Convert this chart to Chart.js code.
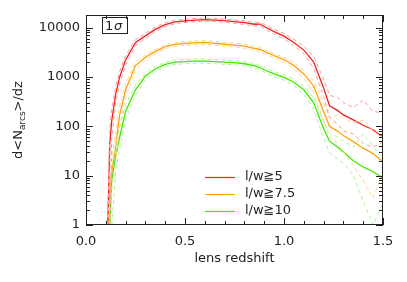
<!DOCTYPE html>
<html>
<head>
<meta charset="utf-8">
<script src="https://cdn.jsdelivr.net/npm/chart.js@4.4.0/dist/chart.umd.min.js"></script>
<style>
html, body { margin: 0; padding: 0; background: #fff; }
#wrap { width: 407px; height: 282px; }
</style>
</head>
<body>
<div id="wrap"><canvas id="myChart" width="407" height="282"></canvas></div>
<script>
// lens redshift grid
const zvals = [0.11, 0.12, 0.13, 0.15, 0.17, 0.2, 0.25, 0.3, 0.35, 0.4, 0.45, 0.5, 0.55, 0.6, 0.65, 0.7, 0.75, 0.8, 0.85, 0.88, 0.9, 0.95, 1.0, 1.05, 1.1, 1.15, 1.2, 1.23, 1.27, 1.3, 1.35, 1.4, 1.45, 1.5];

// l/w >= 5
const red = [1, 45, 130, 450, 1000, 2200, 5000, 6800, 9200, 11500, 13000, 13700, 14200, 14500, 14200, 13800, 13200, 12600, 11700, 11800, 10500, 8300, 6700, 5000, 3500, 2000, 600, 260, 210, 170, 135, 105, 85, 60];
const redHi = [1, 90, 220, 650, 1300, 2700, 5700, 7600, 10200, 12600, 14100, 14800, 15300, 15600, 15300, 14900, 14300, 13700, 12700, 12800, 11600, 9300, 7600, 5800, 4200, 2600, 900, 420, 390, 300, 240, 340, 200, 185];
const redLo = [null, 1, 60, 300, 750, 1750, 4300, 6000, 8300, 10500, 12000, 12700, 13200, 13500, 13200, 12800, 12200, 11600, 10800, 10800, 9500, 7400, 5900, 4300, 2900, 1500, 400, 150, 110, 80, 70, 45, 38, 48];

// l/w >= 7.5
const orange = [1, 5, 12, 40, 170, 550, 1700, 2500, 3300, 4100, 4550, 4800, 4900, 5000, 4800, 4600, 4400, 4200, 3800, 3600, 3300, 2700, 2250, 1700, 1150, 650, 200, 100, 80, 65, 49, 36, 28, 19];
const orangeHi = [1, 12, 25, 70, 260, 720, 2000, 2800, 3650, 4500, 4950, 5250, 5350, 5450, 5250, 5050, 4850, 4650, 4200, 4000, 3650, 3000, 2500, 1950, 1350, 850, 300, 150, 170, 150, 117, 135, 80, 59];
const orangeLo = [null, 1, 5, 20, 100, 400, 1400, 2200, 3000, 3700, 4150, 4400, 4480, 4580, 4380, 4180, 4000, 3800, 3420, 3250, 2950, 2400, 2000, 1470, 950, 480, 130, 60, 46, 30, 16, 8, 3.5, 12];

// l/w >= 10
const green = [null, 1, 8, 25, 60, 200, 550, 1050, 1450, 1800, 2000, 2050, 2100, 2100, 2050, 2000, 1950, 1850, 1700, 1550, 1400, 1150, 980, 780, 550, 300, 90, 50, 38, 30, 20, 15, 12, 9];
const greenHi = [null, 2, 15, 45, 90, 280, 680, 1200, 1620, 2000, 2200, 2260, 2300, 2300, 2250, 2200, 2150, 2040, 1880, 1720, 1560, 1300, 1100, 900, 650, 380, 130, 75, 60, 50, 38, 70, 40, 20];
const greenLo = [null, null, 1, 12, 35, 140, 430, 900, 1280, 1620, 1800, 1850, 1900, 1900, 1850, 1800, 1760, 1670, 1530, 1390, 1240, 1000, 860, 660, 440, 220, 55, 29, 22, 18, 10, 3, 1, 2.8];

const xTicks = [0, 0.5, 1.0, 1.5];
const yTicks = [1, 10, 100, 1000, 10000];
const legendLabels = ['l/w\u22675', 'l/w\u22677.5', 'l/w\u226710'];

function pts(arr) {
	var out = [];
	for (var i = 0; i < zvals.length; i++) {
		if (arr[i] !== null) out.push({ x: zvals[i], y: arr[i] });
	}
	return out;
}

const cRed = '#f22020', cRedL = '#ff9a9a';
const cOr = '#ffa010', cOrL = '#ffd690';
const cGr = '#3ee800', cGrL = '#aaf890';

function solid(arr, col) {
	return { data: pts(arr), borderColor: col, borderWidth: 1.3, pointRadius: 0, tension: 0, fill: false };
}
function dashed(arr, col) {
	return { data: pts(arr), borderColor: col, borderWidth: 1, borderDash: [4, 3], pointRadius: 0, tension: 0, fill: false };
}

// ticks, box, legend, y title
const decor = {
	id: 'decor',
	afterDraw: function (chart) {
		var ctx = chart.ctx, a = chart.chartArea;
		var xs = chart.scales.x, ys = chart.scales.y;
		ctx.save();
		ctx.strokeStyle = '#222';
		ctx.lineWidth = 1;
		ctx.strokeRect(a.left + 0.5, a.top + 0.5, a.right - a.left - 1, a.bottom - a.top - 1);
		ctx.beginPath();
		// x ticks every 0.1, major every 0.5
		for (var k = 0; k <= 15; k++) {
			var px = Math.round(xs.getPixelForValue(k / 10)) + 0.5;
			var len = (k % 5 === 0) ? 7 : 4;
			ctx.moveTo(px, a.bottom); ctx.lineTo(px, a.bottom - len);
			ctx.moveTo(px, a.top); ctx.lineTo(px, a.top + len);
		}
		// y ticks log
		for (var d = 1; d <= 10000; d *= 10) {
			for (var m = 1; m <= 9; m++) {
				var v = d * m;
				if (v > ys.max) break;
				var py = Math.round(ys.getPixelForValue(v)) + 0.5;
				var l2 = (m === 1) ? 7 : 4;
				ctx.moveTo(a.left, py); ctx.lineTo(a.left + l2, py);
				ctx.moveTo(a.right, py); ctx.lineTo(a.right - l2, py);
			}
		}
		ctx.stroke();

		// 1 sigma box
		ctx.strokeRect(102.5, 17.5, 25, 16);
		ctx.fillStyle = '#222';
		ctx.textBaseline = 'alphabetic';
		ctx.font = '13px "DejaVu Sans"';
		ctx.fillText('1', 105, 30);
		ctx.font = 'italic 13px "DejaVu Sans"';
		ctx.fillText('\u03c3', 114, 30);

		// legend
		var cols = [cRed, cOr, cGr];
		ctx.font = '13px "DejaVu Sans"';
		ctx.textBaseline = 'middle';
		for (var i = 0; i < legendLabels.length; i++) {
			var ly = 177 + i * 17;
			ctx.strokeStyle = cols[i];
			ctx.lineWidth = 1.2;
			ctx.beginPath(); ctx.moveTo(205, ly + 0.5); ctx.lineTo(235, ly + 0.5); ctx.stroke();
			ctx.fillStyle = '#222';
			ctx.fillText(legendLabels[i], 245, ly);
		}

		// y title with subscript
		ctx.translate(22, (a.top + a.bottom) / 2);
		ctx.rotate(-Math.PI / 2);
		ctx.textBaseline = 'alphabetic';
		var p1 = 'd<N', sub = 'arcs', p2 = '>/dz';
		ctx.font = '13px "DejaVu Sans"';
		var w1 = ctx.measureText(p1).width, w3 = ctx.measureText(p2).width;
		ctx.font = '9px "DejaVu Sans"';
		var w2 = ctx.measureText(sub).width;
		var x0 = -(w1 + w2 + w3) / 2;
		ctx.font = '13px "DejaVu Sans"';
		ctx.fillText(p1, x0, 0);
		ctx.font = '9px "DejaVu Sans"';
		ctx.fillText(sub, x0 + w1, 3);
		ctx.font = '13px "DejaVu Sans"';
		ctx.fillText(p2, x0 + w1 + w2, 0);
		ctx.restore();
	}
};

var ctx = document.getElementById('myChart').getContext('2d');
var chart = new Chart(ctx, {
	type: 'line',
	data: {
		datasets: [
			dashed(redHi, cRedL), dashed(redLo, cRedL),
			dashed(orangeHi, cOrL), dashed(orangeLo, cOrL),
			dashed(greenHi, cGrL), dashed(greenLo, cGrL),
			solid(red, cRed), solid(orange, cOr), solid(green, cGr)
		]
	},
	options: {
		responsive: false,
		animation: false,
		layout: { padding: { top: 15, right: 24, left: 0, bottom: 0 } },
		plugins: { legend: { display: false }, tooltip: { enabled: false } },
		scales: {
			x: {
				type: 'linear', min: 0, max: 1.5,
				afterBuildTicks: function (s) { s.ticks = xTicks.map(function (v) { return { value: v }; }); },
				afterFit: function (s) { s.height = 57; },
				grid: { display: false, drawTicks: false },
				border: { display: false },
				ticks: {
					color: '#222', padding: 9, maxRotation: 0,
					font: { family: 'DejaVu Sans', size: 13 },
					callback: function (v) { return v.toFixed(1); }
				},
				title: { display: true, text: 'lens redshift', color: '#222', padding: { top: 2, bottom: 16 }, font: { family: 'DejaVu Sans', size: 13 } }
			},
			y: {
				type: 'logarithmic', min: 1, max: 18000,
				afterBuildTicks: function (s) { s.ticks = yTicks.map(function (v) { return { value: v }; }); },
				afterFit: function (s) { s.width = 86; },
				grid: { display: false, drawTicks: false },
				border: { display: false },
				ticks: {
					color: '#222', padding: 6,
					font: { family: 'DejaVu Sans', size: 13 },
					callback: function (v) { return String(v); }
				}
			}
		}
	},
	plugins: [decor]
});
</script>
</body>
</html>
